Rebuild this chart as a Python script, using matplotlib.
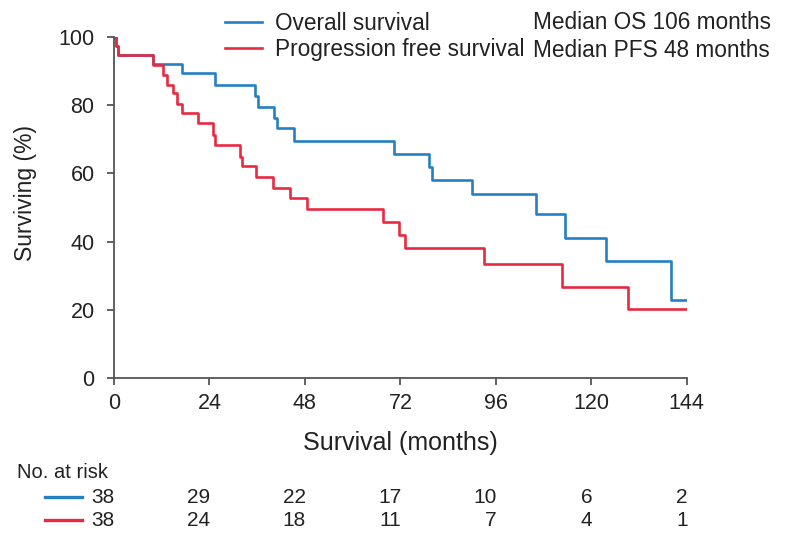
import matplotlib
matplotlib.use("Agg")
import matplotlib.pyplot as plt
from matplotlib.lines import Line2D
import matplotlib.transforms as mtransforms

plt.rcParams['font.family'] = ['Liberation Sans', 'DejaVu Sans']

# Kaplan-Meier steps (months, % surviving after the step)
os_time = [0, 0.5, 1.0, 9.8, 17.2, 25.4, 35.4, 36.1, 40.2, 41.0, 45.2,
           70.3, 79.1, 79.9, 90.0, 106.0, 113.3, 123.6, 140.0, 144.0]
os_surv = [100, 97.4, 94.7, 92.1, 89.5, 86.0, 82.7, 79.4, 76.3, 73.2, 69.6,
           65.8, 62.0, 58.0, 54.0, 48.0, 41.0, 34.3, 22.9, 22.9]

pfs_time = [0, 0.5, 1.0, 9.9, 12.2, 13.4, 14.9, 15.9, 17.2, 21.2, 24.9, 25.4,
            31.7, 32.3, 35.6, 40.0, 44.2, 48.5, 67.5, 71.7, 73.1, 93.0,
            112.6, 129.3, 144.0]
pfs_surv = [100, 97.4, 94.7, 91.8, 88.9, 85.9, 83.5, 80.5, 77.6, 74.7, 71.3, 68.3,
            64.9, 62.2, 59.0, 55.6, 52.7, 49.5, 45.8, 41.9, 38.2, 33.4,
            26.8, 20.1, 20.1]

risk_times = [0, 24, 48, 72, 96, 120, 144]
os_risk = [38, 29, 22, 17, 10, 6, 2]
pfs_risk = [38, 24, 18, 11, 7, 4, 1]

labels = ['Overall survival', 'Progression free survival']
medians = ['Median OS 106 months', 'Median PFS 48 months']

blue = '#2480c3'
red = '#e8293f'
axis_col = '#555555'
txt_col = '#222222'

fig = plt.figure(figsize=(8, 5.42), dpi=100)
ax = fig.add_axes([0.1425, 0.3026, 0.716, 0.629])

l1, = ax.step(os_time, os_surv, where='post', color=blue, lw=1.9)
l2, = ax.step(pfs_time, pfs_surv, where='post', color=red, lw=1.9)

ax.set_xlim(0, 144)
ax.set_ylim(0, 100)
ax.set_xticks(risk_times)
ax.set_yticks([0, 20, 40, 60, 80, 100])
for s in ['top', 'right']:
    ax.spines[s].set_visible(False)
for s in ['left', 'bottom']:
    ax.spines[s].set_color(axis_col)
    ax.spines[s].set_linewidth(1.3)
ax.tick_params(colors=axis_col, labelcolor=txt_col, labelsize=15.5,
               length=5, width=1.3)
ax.tick_params(axis='y', pad=9)
ax.tick_params(axis='x', pad=6)
ax.set_ylabel('Surviving (%)', fontsize=16.5, color=txt_col)
ax.yaxis.set_label_coords(-0.135, 0.543)
ax.set_xlabel('Survival (months)', fontsize=18, color=txt_col, labelpad=12)

fig.legend([l1, l2], labels, loc='upper left', bbox_to_anchor=(0.281, 0.978),
           frameon=False, fontsize=16.3, handlelength=1.64, handletextpad=0.57,
           labelspacing=0.15, borderaxespad=0, borderpad=0, labelcolor=txt_col)
fig.text(0.666, 0.959, medians[0], fontsize=16.3, va='center', color=txt_col)
fig.text(0.666, 0.907, medians[1], fontsize=16.3, va='center', color=txt_col)

# number at risk table
fig.text(0.021, 0.129, 'No. at risk', fontsize=14.5, va='center', color=txt_col)
trans = mtransforms.blended_transform_factory(ax.transData, fig.transFigure)
for vals, col, y in [(os_risk, blue, 0.083), (pfs_risk, red, 0.040)]:
    fig.add_artist(Line2D([0.056, 0.1025], [y, y], color=col, lw=2.4,
                          transform=fig.transFigure))
    for t, v in zip(risk_times, vals):
        ax.text(t + 0.2, y, str(v), transform=trans, fontsize=15,
                ha='right', va='center', color=txt_col)

fig.savefig('out.png', dpi=100)
